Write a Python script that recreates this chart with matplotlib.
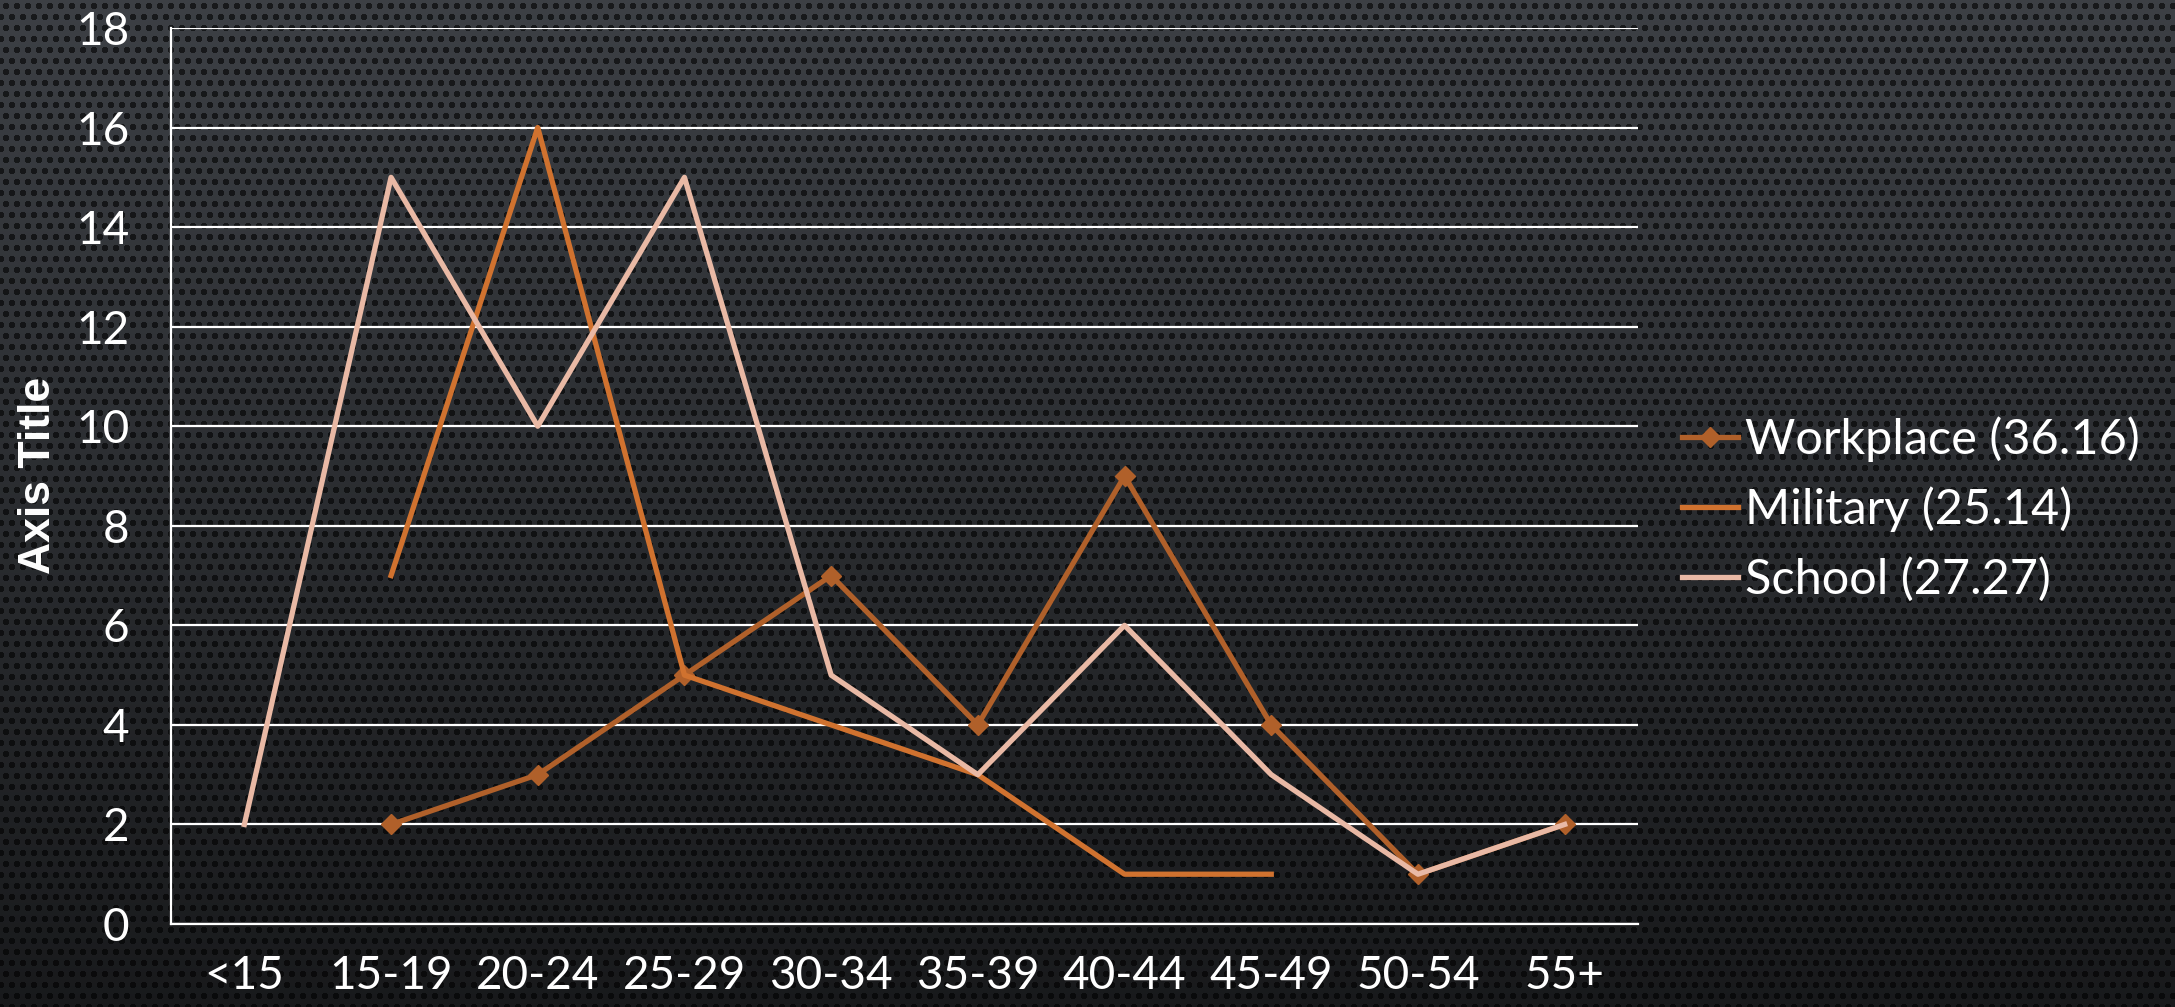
import matplotlib
matplotlib.use('Agg')
import matplotlib.pyplot as plt
import numpy as np

# data
ages = ['<15', '15-19', '20-24', '25-29', '30-34', '35-39', '40-44', '45-49', '50-54', '55+']
workplace = [np.nan, 2, 3, 5, 7, 4, 9, 4, 1, 2]
military = [np.nan, 7, 16, 5, 4, 3, 1, 1, np.nan, np.nan]
school = [2, 15, 10, 15, 5, 3, 6, 3, 1, 2]
labels = ['Workplace (36.16)', 'Military (25.14)', 'School (27.27)']

W, H = 2175, 1007
fig = plt.figure(figsize=(W / 100, H / 100), dpi=100)

# textured dark background (gradient + staggered dots)
yy, xx = np.mgrid[0:H, 0:W]
base = 0.25 - 0.15 * (yy / H)
period = 11
shift = ((yy // period) % 2) * (period // 2)
cx = ((xx + shift) % period) - period / 2
cy = (yy % period) - period / 2
dots = (cx ** 2 + cy ** 2) < 12
val = np.where(dots, base * 0.4, base)
bg = np.clip(np.dstack([val * 0.95, val, val * 1.08]), 0, 1)
fig.figimage(bg, 0, 0, zorder=-10)

ax = fig.add_axes([171 / W, 1 - 924 / H, (1638 - 171) / W, (924 - 28) / H])
ax.patch.set_alpha(0)

x = np.arange(len(ages))
ax.plot(x, workplace, color='#B0602A', lw=3.8, marker='D', ms=10, label=labels[0], zorder=3)
ax.plot(x, military, color='#D0722F', lw=3.8, label=labels[1], zorder=3)
ax.plot(x, school, color='#E9B9A5', lw=3.8, label=labels[2], zorder=4)

ax.set_xlim(-0.5, len(ages) - 0.5)
ax.set_ylim(0, 18)
ax.set_yticks(range(0, 19, 2))
ax.set_xticks(x)
ax.set_xticklabels(ages)
ax.grid(axis='y', color='white', lw=1.6, zorder=1)
ax.set_axisbelow(True)
for s in ['top', 'right']:
    ax.spines[s].set_visible(False)
for s in ['left', 'bottom']:
    ax.spines[s].set_color('white')
    ax.spines[s].set_linewidth(1.6)
ax.tick_params(length=0, colors='white', labelsize=33)
ax.tick_params(axis='y', pad=30)
ax.tick_params(axis='x', pad=22)
for t in ax.get_xticklabels() + ax.get_yticklabels():
    t.set_family('Lato')

fig.text(39 / W, 1 - 475 / H, 'Axis Title', rotation=90, ha='center', va='center',
         color='white', fontsize=32, fontweight='bold', family='Liberation Sans')

leg = ax.legend(loc='center left', bbox_to_anchor=(1.0, 0.463), frameon=False,
                prop={'family': 'Lato', 'size': 35},
                handlelength=1.15, handletextpad=0.15, labelspacing=0.5, borderaxespad=0.5)
for t in leg.get_texts():
    t.set_color('white')

fig.savefig('out.png', dpi=100)
